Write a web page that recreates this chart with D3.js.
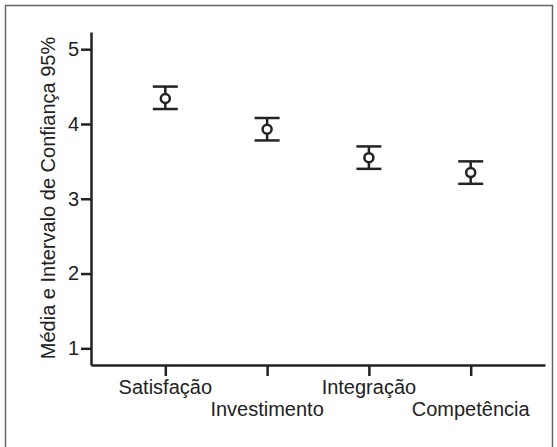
<!DOCTYPE html>
<html>
<head>
<meta charset="utf-8">
<script src="https://cdn.jsdelivr.net/npm/d3@7"></script>
<style>
  html, body { margin: 0; padding: 0; background: #fff; }
  svg { display: block; }
  text { font-family: "Liberation Sans", Arial, Helvetica, sans-serif; fill: #222; }
</style>
</head>
<body>
<svg id="chart" width="557" height="447"></svg>
<script>
const categories = ["Satisfação", "Investimento", "Integração", "Competência"];
const means = [4.34, 3.93, 3.55, 3.35];
const lower = [4.20, 3.78, 3.40, 3.20];
const upper = [4.50, 4.08, 3.70, 3.50];
const yTicks = [1, 2, 3, 4, 5];
const yLabel = "Média e Intervalo de Confiança 95%";

const svg = d3.select("#chart");
const ink = "#222";

// frame
svg.append("rect")
  .attr("x", 5.5).attr("y", 5.5)
  .attr("width", 547).attr("height", 470)
  .attr("fill", "none").attr("stroke", "#666").attr("stroke-width", 1.5);

const x = d3.scalePoint().domain(categories).range([91, 545]).padding(0.73);
const y = d3.scaleLinear().domain([0.777, 5.23]).range([365, 32]);

// y axis
const gy = svg.append("g").attr("transform", "translate(91,0)")
  .call(d3.axisLeft(y).tickValues(yTicks).tickFormat(d3.format("d")).tickSize(10).tickSizeOuter(0).tickPadding(2));
gy.select(".domain").attr("stroke", ink).attr("stroke-width", 2.5);
gy.selectAll(".tick line").attr("stroke", ink).attr("stroke-width", 2.5);
gy.selectAll(".tick text").attr("font-size", 20).style("fill", ink);

// x axis
const gx = svg.append("g").attr("transform", "translate(0,365)")
  .call(d3.axisBottom(x).tickSize(11).tickSizeOuter(0).tickFormat(""));
gx.select(".domain").attr("stroke", ink).attr("stroke-width", 2.5);
gx.selectAll(".tick line").attr("stroke", ink).attr("stroke-width", 2.5);

// staggered category labels
svg.append("g").selectAll("text").data(categories).join("text")
  .attr("x", d => x(d))
  .attr("y", (d, i) => i % 2 === 0 ? 394 : 416)
  .attr("text-anchor", "middle")
  .attr("font-size", 20)
  .text(d => d);

// y label
svg.append("text")
  .attr("transform", `translate(55,198) rotate(-90)`)
  .attr("text-anchor", "middle")
  .attr("font-size", 20)
  .text(yLabel);

// error bars
const data = categories.map((c, i) => ({ c, m: means[i], lo: lower[i], hi: upper[i] }));
const g = svg.append("g");
const capW = 12.5;
g.selectAll("line.v").data(data).join("line").attr("class", "v")
  .attr("x1", d => x(d.c)).attr("x2", d => x(d.c))
  .attr("y1", d => y(d.lo)).attr("y2", d => y(d.hi))
  .attr("stroke", ink).attr("stroke-width", 2.5);
g.selectAll("line.top").data(data).join("line").attr("class", "top")
  .attr("x1", d => x(d.c) - capW).attr("x2", d => x(d.c) + capW)
  .attr("y1", d => y(d.hi)).attr("y2", d => y(d.hi))
  .attr("stroke", ink).attr("stroke-width", 2.5);
g.selectAll("line.bot").data(data).join("line").attr("class", "bot")
  .attr("x1", d => x(d.c) - capW).attr("x2", d => x(d.c) + capW)
  .attr("y1", d => y(d.lo)).attr("y2", d => y(d.lo))
  .attr("stroke", ink).attr("stroke-width", 2.5);
g.selectAll("circle").data(data).join("circle")
  .attr("cx", d => x(d.c)).attr("cy", d => y(d.m)).attr("r", 4.5)
  .attr("fill", "#fff").attr("stroke", ink).attr("stroke-width", 2.5);
</script>
</body>
</html>
